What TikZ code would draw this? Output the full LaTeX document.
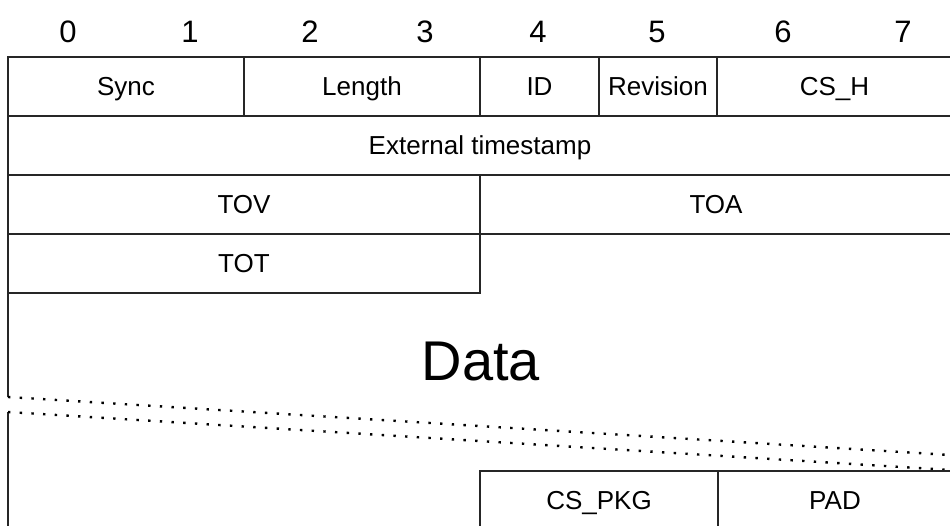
\documentclass[tikz,border=0pt]{standalone}
\usepackage{fontspec}
\setmainfont{Liberation Sans}
\begin{document}
\begin{tikzpicture}[x=1pt,y=-1pt,
  cell/.style={draw=black!85, line width=1.3pt, rectangle, inner sep=0pt, font=\fontsize{26}{30}\selectfont, text height=18.6pt, text depth=0pt},
  bytenum/.style={font=\fontsize{31}{34}\selectfont, inner sep=0pt, text height=22.2pt, text depth=0pt},
  edge/.style={draw=black!85, line width=1.3pt},
  brk/.style={draw=black, line width=2.4pt, dash pattern=on 2.4pt off 9.3pt}]
\useasboundingbox (0,0) rectangle (950,526);
\clip (0,0) rectangle (950,526);
% byte numbers
\node[bytenum] (n0) at (68,31) {0};
\node[bytenum] (n1) at (190,31) {1};
\node[bytenum] (n2) at (310,31) {2};
\node[bytenum] (n3) at (425,31) {3};
\node[bytenum] (n4) at (538,31) {4};
\node[bytenum] (n5) at (657,31) {5};
\node[bytenum] (n6) at (783,31) {6};
\node[bytenum] (n7) at (903,31) {7};
% row 1
\node[cell, minimum width=236pt, minimum height=59pt] (sync) at (126,86.5) {Sync};
\node[cell, minimum width=236pt, minimum height=59pt] (len) at (362,86.5) {Length};
\node[cell, minimum width=119pt, minimum height=59pt] (id) at (539.5,86.5) {ID};
\node[cell, minimum width=118pt, minimum height=59pt] (rev) at (658,86.5) {Revision};
\node[cell, minimum width=235pt, minimum height=59pt] (csh) at (834.5,86.5) {CS\_H};
% row 2
\node[cell, minimum width=944pt, minimum height=59pt] (ext) at (480,145.5) {External timestamp};
% row 3
\node[cell, minimum width=472pt, minimum height=59pt] (tov) at (244,204.5) {TOV};
\node[cell, minimum width=472pt, minimum height=59pt] (toa) at (716,204.5) {TOA};
% row 4
\node[cell, minimum width=472pt, minimum height=59pt] (tot) at (244,263.5) {TOT};
% data area
\coordinate (l1) at (8,293);
\coordinate (l2) at (8,397);
\coordinate (l3) at (8,412);
\coordinate (l4) at (8,530);
\coordinate (r1) at (950,455);
\coordinate (r2) at (950,470);
\draw[edge] (l1) -- (l2);
\draw[edge] (l3) -- (l4);
\node[font=\fontsize{56}{62}\selectfont, inner sep=0pt, text height=40pt, text depth=0pt] (data) at (481,361) {Data};
\draw[brk] (l2) -- (r1);
\draw[brk] (l3) -- (r2);
% last row
\node[cell, minimum width=238pt, minimum height=59pt] (cspkg) at (599,500.5) {CS\_PKG};
\node[cell, minimum width=234pt, minimum height=59pt] (pad) at (835,500.5) {PAD};
\end{tikzpicture}
\end{document}
